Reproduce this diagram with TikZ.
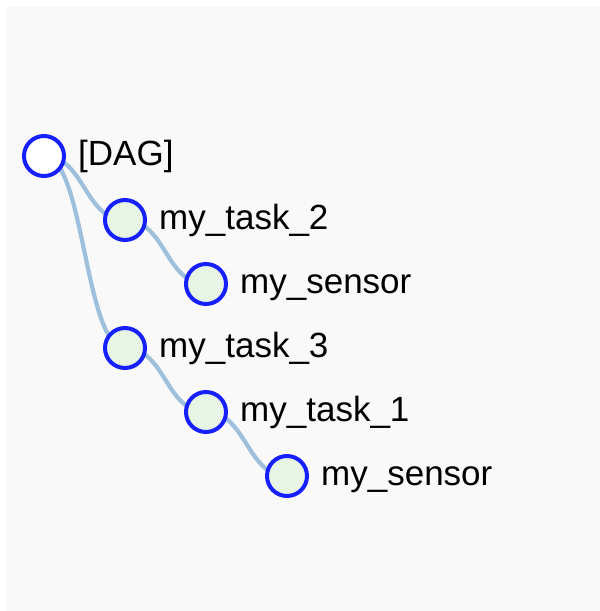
\documentclass[tikz,border=0pt]{standalone}
\usepackage{fontspec}
\setmainfont{Liberation Sans}
\usetikzlibrary{positioning,backgrounds}
\definecolor{nodeblue}{RGB}{22,32,255}
\definecolor{nodegreen}{RGB}{232,245,228}
\definecolor{linkblue}{RGB}{158,192,220}
\definecolor{panelgrey}{RGB}{249,249,249}
\tikzset{
  treenode/.style={circle,draw=nodeblue,line width=4pt,fill=nodegreen,
    minimum size=40pt,inner sep=0pt},
  treetext/.style={inner sep=0pt,text height=25pt,text depth=7pt,
    font=\fontsize{35}{42}\selectfont},
  link/.style={draw=linkblue,line width=4.2pt},
  diag/.style={out=0,in=180,distance=40.5pt}
}

\begin{document}
\begin{tikzpicture}[x=1pt,y=-1pt]
\useasboundingbox (0,0) rectangle (600,611);
\node[treenode,fill=white] (dag) at (44,156) {};
\node[treenode] (t2) at (125,220) {};
\node[treenode] (s1) at (206,284) {};
\node[treenode] (t3) at (125,348) {};
\node[treenode] (t1) at (206,412) {};
\node[treenode] (s2) at (287,476) {};
\node[treetext,right=12pt of dag] (dagl) {[DAG]};
\node[treetext,right=12pt of t2] (t2l) {my\_task\_2};
\node[treetext,right=12pt of s1] (s1l) {my\_sensor};
\node[treetext,right=12pt of t3] (t3l) {my\_task\_3};
\node[treetext,right=12pt of t1] (t1l) {my\_task\_1};
\node[treetext,right=12pt of s2] (s2l) {my\_sensor};
\begin{scope}[on background layer]
\fill[panelgrey] (6,7) rectangle (600,611);
\draw[link] (dag.center) to[diag] (t2.center) (t2.center) to[diag] (s1.center)
  (dag.center) to[diag] (t3.center) (t3.center) to[diag] (t1.center)
  (t1.center) to[diag] (s2.center);
\end{scope}
\end{tikzpicture}
\end{document}
